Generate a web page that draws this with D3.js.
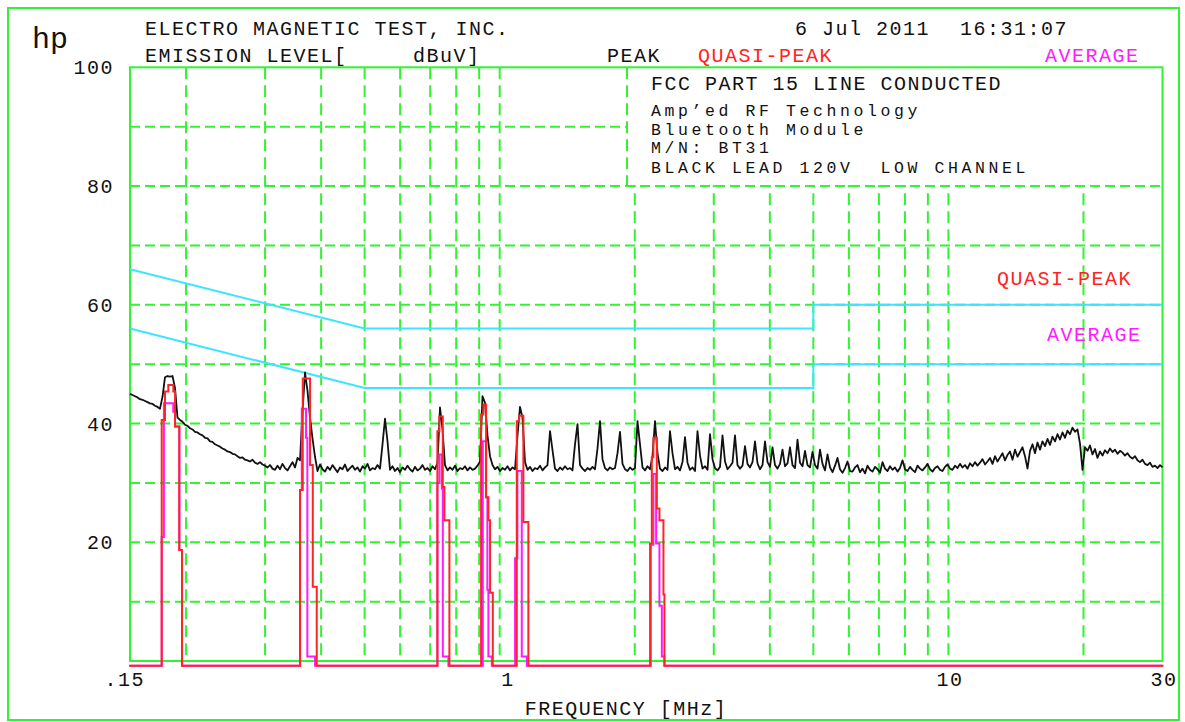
<!DOCTYPE html>
<html>
<head>
<meta charset="utf-8">
<script src="https://cdn.jsdelivr.net/npm/d3@7"></script>
<style>
  html, body { margin: 0; padding: 0; background: #fff; }
  svg { display: block; }
  text { font-family: "Liberation Mono", "DejaVu Sans Mono", monospace; white-space: pre; }
</style>
</head>
<body>
<svg id="chart" width="1185" height="722"></svg>
<script>
// ---- Sweep settings (log sweep, MHz) ----
const sweepStartMHz = 0.15;
const sweepStopMHz = 30;

// Peak detector trace, dBuV, one value per sweep point
const peakLevels = [
  45.0, 44.8, 44.6, 44.4, 44.1, 44.0, 43.8, 43.6, 43.4, 43.3,
  43.0, 42.8, 42.5, 44.5, 47.8, 48.0, 47.9, 48.0, 46.0, 41.0,
  40.6, 40.3, 39.8, 39.6, 39.2, 39.0, 38.6, 38.5, 38.2, 38.0,
  37.6, 37.5, 37.0, 36.9, 36.5, 36.3, 36.1, 35.8, 35.6, 35.3,
  35.2, 34.9, 34.8, 34.5, 34.2, 34.3, 33.9, 33.8, 33.6, 33.9,
  33.4, 33.2, 33.5, 33.1, 32.9, 32.6, 33.0, 32.4, 32.2, 32.9,
  32.3, 33.2, 32.5, 32.1, 32.8, 33.5, 32.6, 34.2, 33.8, 42.0,
  48.6, 45.5, 41.0, 37.5, 34.4, 32.0, 33.1, 32.3, 31.9, 32.7,
  32.2, 33.0, 32.4, 31.8, 32.6, 32.3, 33.1, 32.0, 32.5, 32.9,
  32.2, 32.6, 31.9, 32.8, 32.4, 33.2, 32.1, 32.5, 32.3, 33.0,
  32.4, 36.5, 40.8, 37.0, 32.2, 32.8, 32.0, 32.5, 31.8, 32.6,
  32.2, 32.9, 32.3, 31.9, 32.7, 32.1, 32.4, 33.0, 32.2, 32.5,
  32.0, 32.8, 32.3, 33.4, 42.7, 39.0, 33.0, 32.1, 32.6, 32.2,
  32.9, 32.0, 32.5, 32.3, 32.8, 32.1, 32.6, 32.2, 32.4, 32.9,
  33.6, 44.6, 43.5, 38.0, 34.5, 33.0, 32.3, 32.7, 32.0, 32.5,
  32.2, 32.8, 32.1, 32.6, 32.3, 38.0, 42.8, 41.0, 33.5, 32.2,
  32.7, 32.0, 32.5, 32.3, 32.9, 32.1, 32.6, 33.0, 38.7, 35.5,
  32.4, 32.0, 32.6, 32.2, 32.8, 32.3, 32.5, 32.1, 36.5, 39.9,
  33.0, 32.4, 32.0, 32.5, 32.2, 32.7, 32.3, 35.8, 40.4, 34.0,
  32.5, 32.1, 32.6, 32.3, 32.5, 35.0, 38.6, 33.2, 32.3, 32.0,
  32.6, 32.2, 32.5, 40.4, 36.5, 32.6, 32.1, 32.8, 32.3, 34.5,
  40.4, 35.0, 32.4, 32.0, 32.6, 32.2, 38.7, 35.0, 32.3, 32.7,
  32.1, 33.5, 37.7, 33.4, 32.2, 32.6, 32.0, 38.7, 34.6, 32.4,
  32.8, 32.2, 38.2, 34.0, 32.5, 32.1, 32.7, 38.0, 33.6, 32.3,
  32.8, 33.4, 38.0, 33.0, 32.4, 32.9, 36.2, 33.2, 32.6, 33.5,
  37.0, 33.3, 32.3, 33.0, 37.0, 33.5, 32.7, 36.0, 33.0, 32.4,
  33.2, 35.6, 32.8, 33.3, 36.0, 33.0, 32.5, 37.3, 33.4, 32.8,
  35.4, 33.0, 32.6, 35.2, 33.0, 32.4, 35.6, 33.2, 32.1, 34.8,
  32.6, 31.8, 32.9, 34.2, 32.3, 31.7, 32.5, 33.6, 32.0, 31.9,
  32.6, 33.0, 31.8, 32.4, 31.6, 32.9, 32.2, 31.9, 32.7, 32.3,
  31.7, 33.5, 32.4, 32.0, 32.8, 32.2, 32.6, 31.9, 32.5, 33.8,
  32.3, 32.0, 32.7, 32.2, 31.8, 32.9, 32.4, 32.1, 32.6, 33.2,
  32.3, 31.9, 32.5, 32.8, 32.2, 32.0, 32.7, 33.1, 32.4, 32.2,
  32.9, 32.5, 33.2, 32.6, 33.0, 32.4, 33.3, 32.8, 33.5, 32.9,
  33.4, 34.0, 33.1, 33.6, 34.2, 33.2, 34.5, 33.6, 34.3, 35.0,
  33.8, 34.7, 35.3, 33.9, 35.6, 34.4, 35.2, 36.0, 34.5, 32.4,
  35.4, 36.5, 35.0, 36.8, 35.6, 37.0, 36.2, 37.4, 36.4, 37.8,
  37.0, 38.2, 37.3, 38.5, 37.6, 38.8, 38.2, 39.3, 38.6, 39.0,
  36.6, 32.2, 36.0, 35.4, 36.3, 34.8, 35.7, 34.2, 35.3, 34.6,
  35.5, 35.0, 35.8, 35.2, 35.6, 34.9, 35.4, 35.1, 34.6, 35.0,
  34.4, 34.1, 34.5, 33.8, 33.5, 33.9, 33.2, 33.0, 33.4, 32.7,
  32.9, 32.5, 33.0, 32.6
];

// Quasi-peak measurements [MHz, dBuV] (held until the next point)
const quasiPeakTrace = [
  [0.15, -0.8],
  [0.1765, 40.6], [0.1795, 45.4], [0.1826, 46.5], [0.1873, 45.4], [0.1890, 39.5], [0.1932, 18.7], [0.1959, -0.8],
  [0.3590, 28.8], [0.3640, 47.6], [0.3779, 33.0], [0.3832, 12.5], [0.3911, -0.8],
  [0.7264, 38.7], [0.7339, 41.2], [0.7468, 29.3], [0.7529, 23.7], [0.7725, -0.8],
  [0.9090, 41.5], [0.9198, 43.2], [0.9326, 27.6], [0.9436, 23.7], [0.9519, 11.5], [0.9652, -0.8],
  [1.0916, 40.4], [1.1050, 41.3], [1.1292, 23.4], [1.1585, -0.8],
  [2.1638, 19.8], [2.1828, 34.3], [2.2008, 37.6], [2.2397, 25.7], [2.2700, 23.7], [2.3170, 11.2], [2.3289, -0.8],
  [30, -0.8]
];

// Average measurements [MHz, dBuV] (held until the next point)
const averageTrace = [
  [0.15, -0.8],
  [0.1765, 20.9], [0.1785, 43.4], [0.1873, 42.0], [0.1890, 39.5], [0.1932, 18.7], [0.1959, -0.8],
  [0.3590, 28.8], [0.3622, 42.5], [0.3702, 37.6], [0.3727, 0.75], [0.3877, -0.8],
  [0.7264, 30.0], [0.7339, 34.8], [0.7430, 29.0], [0.7468, 0.75], [0.7685, -0.8],
  [0.9170, 37.0], [0.9326, 27.6], [0.9388, 12.0], [0.9436, 0.75], [0.9603, -0.8],
  [1.0822, 17.3], [1.0950, 32.0], [1.1200, 0.75], [1.1491, -0.8],
  [2.1716, 19.6], [2.2008, 31.5], [2.2317, 19.8], [2.2700, 9.3], [2.2980, 0.75], [2.3289, -0.8],
  [30, -0.8]
];

// FCC Part 15 conducted limits
const limitFreqs = [0.15, 0.5, 5, 5, 30];
const quasiPeakLimit = [66, 56, 56, 60, 60];
const averageLimit = [56, 46, 46, 50, 50];

// Grid and tick labels
const freqGridLines = [0.2, 0.3, 0.4, 0.5, 0.6, 0.7, 0.8, 0.9, 1, 2, 3, 4, 5, 6, 7, 8, 9, 10, 20];
const levelGridLines = [10, 20, 30, 40, 50, 60, 70, 80, 90];
const freqTickValues = [0.15, 1, 10, 30];
const freqTickLabels = [".15", "1", "10", "30"];
const levelTickValues = [20, 40, 60, 80, 100];

const headerLine1 = "ELECTRO MAGNETIC TEST, INC.";
const dateText = "6 Jul 2011";
const timeText = "16:31:07";
const noteTitle = "FCC PART 15 LINE CONDUCTED";
const noteLines = [
  "Amp\u2019ed RF Technology",
  "Bluetooth Module",
  "M/N: BT31",
  "BLACK LEAD 120V  LOW CHANNEL"
];

// ---- Drawing ----
const GREEN = "#33f233", RED = "#ff2424", MAGENTA = "#ff1aff", CYAN = "#3de4ff", INK = "#111";
const svg = d3.select("#chart");
const plot = { left: 130, right: 1162.5, top: 67.3, bottom: 661 };

const x = d3.scaleLog().domain([sweepStartMHz, sweepStopMHz]).range([plot.left, plot.right]);
const y = d3.scaleLinear().domain([0, 100]).range([plot.bottom, plot.top]);

const N = peakLevels.length;
const ratio = sweepStopMHz / sweepStartMHz;
const peakTrace = peakLevels.map((v, i) => [sweepStartMHz * Math.pow(ratio, i / (N - 1)), v]);

svg.append("rect").attr("width", 1185).attr("height", 722).attr("fill", "#fff");

// outer frame
svg.append("rect").attr("x", 8).attr("y", 8).attr("width", 1171).attr("height", 712)
  .attr("fill", "none").attr("stroke", GREEN).attr("stroke-width", 2);

// grid
const grid = svg.append("g").attr("stroke", GREEN).attr("stroke-width", 2).attr("fill", "none");
grid.selectAll("line.v").data(freqGridLines).join("line").attr("class", "v")
  .attr("x1", d => x(d)).attr("x2", d => x(d))
  .attr("y1", plot.top).attr("y2", plot.bottom)
  .attr("stroke-dasharray", "12,6");
grid.selectAll("line.h").data(levelGridLines).join("line").attr("class", "h")
  .attr("y1", d => y(d)).attr("y2", d => y(d))
  .attr("x1", plot.left).attr("x2", plot.right)
  .attr("stroke-dasharray", "10,5");

// annotation panel (upper right)
const panelLeft = 627;
svg.append("rect").attr("x", panelLeft + 1).attr("y", plot.top).attr("width", plot.right - panelLeft - 1)
  .attr("height", y(80) - plot.top - 1).attr("fill", "#fff");
svg.append("line").attr("x1", panelLeft).attr("x2", panelLeft).attr("y1", plot.top).attr("y2", y(80))
  .attr("stroke", GREEN).attr("stroke-width", 2).attr("stroke-dasharray", "12,6");

// plot frame
svg.append("rect").attr("x", plot.left).attr("y", plot.top)
  .attr("width", plot.right - plot.left).attr("height", plot.bottom - plot.top)
  .attr("fill", "none").attr("stroke", GREEN).attr("stroke-width", 2);

// limit lines
const limitLine = d3.line().x(d => x(d[0])).y(d => y(d[1]));
[quasiPeakLimit, averageLimit].forEach(lim => {
  svg.append("path").datum(limitFreqs.map((f, i) => [f, lim[i]]))
    .attr("d", limitLine).attr("fill", "none").attr("stroke", CYAN).attr("stroke-width", 2);
});

// peak trace
svg.append("path").datum(peakTrace)
  .attr("d", d3.line().x(d => x(d[0])).y(d => y(d[1])))
  .attr("fill", "none").attr("stroke", INK).attr("stroke-width", 1.8).attr("stroke-linejoin", "round");

// average and quasi-peak traces
const stepLine = d3.line().curve(d3.curveStepAfter).x(d => x(d[0])).y(d => y(d[1]));
svg.append("path").datum(averageTrace).attr("d", stepLine)
  .attr("fill", "none").attr("stroke", MAGENTA).attr("stroke-width", 2);
svg.append("path").datum(quasiPeakTrace).attr("d", stepLine)
  .attr("fill", "none").attr("stroke", RED).attr("stroke-width", 2).attr("stroke-linecap", "square");

// ---- Text ----
const txt = (s, px, py, opts = {}) => svg.append("text")
  .attr("x", px).attr("y", py)
  .attr("font-size", opts.size || 20)
  .attr("fill", opts.color || INK)
  .attr("text-anchor", opts.anchor || "start")
  .style("letter-spacing", (opts.spacing !== undefined ? opts.spacing : 1.5) + "px")
  .text(s);

txt("hp", 32, 48, { size: 30, spacing: 0 });
txt(headerLine1, 145, 35);
txt("EMISSION LEVEL[", 145, 62);
txt("dBuV]", 413, 62);
txt(dateText, 795, 35);
txt(timeText, 960, 35);
txt("PEAK", 607, 62);
txt("QUASI-PEAK", 698, 62, { color: RED });
txt("AVERAGE", 1045, 62, { color: MAGENTA });

txt(noteTitle, 651, 90);
noteLines.forEach((s, i) => txt(s, 651, [116, 134.5, 153, 173][i], { size: 16.5, spacing: 3.6 }));

txt("QUASI-PEAK", 997, 285, { color: RED });
txt("AVERAGE", 1047, 341, { color: MAGENTA });

// axis labels
levelTickValues.forEach(v => txt(String(v), 114, y(v) + 7, { anchor: "end" }));
freqTickValues.forEach((v, i) => txt(freqTickLabels[i], x(v) + 15, 686, { anchor: "end" }));
txt("FREQUENCY [MHz]", 626, 715, { anchor: "middle" });
</script>
</body>
</html>
